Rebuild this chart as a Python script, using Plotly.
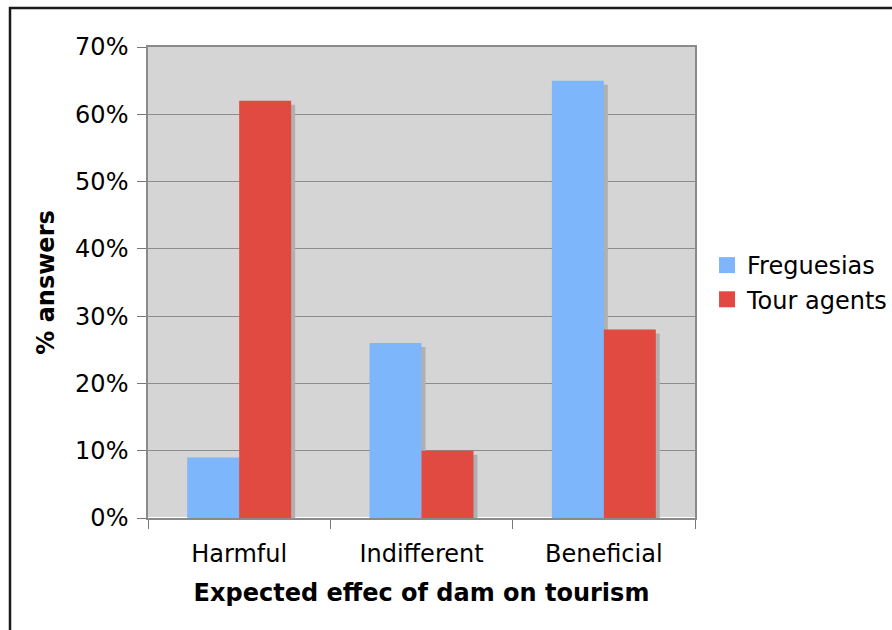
import plotly.graph_objects as go

categories = ["Harmful", "Indifferent", "Beneficial"]
freguesias = [9, 26, 65]
tour_agents = [62, 10, 28]
y_ticks = [0, 10, 20, 30, 40, 50, 60, 70]
y_tick_labels = [f"{v}%" for v in y_ticks]

BLUE = "#7db6fb"
RED = "#e04a41"
SHADOW = "#b0b0b0"
FONT = "DejaVu Sans"

# plot area geometry (pixels)
W, H = 892, 630
L, R, T, B = 148, 197, 47, 112
pw, ph = W - L - R, H - T - B
ymax = 70
shift_px = 4
dx = shift_px * 3 / pw
dy = shift_px * ymax / ph

fig = go.Figure()

# shadows on primary axes (shifted ranges)
for name, vals in [("Freguesias", freguesias), ("Tour agents", tour_agents)]:
    fig.add_trace(go.Bar(x=categories, y=vals, name=name, marker_color=SHADOW,
                         marker_line_width=0, showlegend=False, hoverinfo="skip",
                         xaxis="x", yaxis="y", offsetgroup=name))

# real bars on overlay axes
fig.add_trace(go.Bar(x=categories, y=freguesias, name="Freguesias", marker_color=BLUE,
                     marker_line_width=0, xaxis="x2", yaxis="y2", offsetgroup="F",
                     showlegend=False, legendgroup="F"))
fig.add_trace(go.Bar(x=categories, y=tour_agents, name="Tour agents", marker_color=RED,
                     marker_line_width=0, xaxis="x2", yaxis="y2", offsetgroup="T",
                     showlegend=False, legendgroup="T"))

# legend entries with larger square swatches
for name, col, grp in [("Freguesias", BLUE, "F"), ("Tour agents", RED, "T")]:
    fig.add_trace(go.Scatter(x=[None], y=[None], mode="markers", name=name,
                             legendgroup=grp, xaxis="x2", yaxis="y2",
                             marker=dict(symbol="square", size=16, color=col,
                                         line=dict(width=0))))

fig.update_layout(
    width=W, height=H,
    margin=dict(l=L, r=R, t=T, b=B, autoexpand=False),
    paper_bgcolor="white",
    plot_bgcolor="#d5d5d5",
    barmode="group",
    bargap=0.43,
    bargroupgap=0,
    font=dict(family=FONT, size=24, color="black"),
    xaxis=dict(range=[-0.5 - dx, 2.5 - dx], visible=False, fixedrange=True),
    yaxis=dict(range=[dy, ymax + dy], visible=False, fixedrange=True),
    xaxis2=dict(overlaying="x", range=[-0.5, 2.5], type="category",
                categoryorder="array", categoryarray=categories,
                showline=True, mirror=True, linecolor="#8a8a8a", linewidth=1.5,
                ticks="outside", tickson="boundaries", ticklen=9, tickcolor="#777",
                showgrid=False, ticklabelstandoff=13,
                title=dict(text="<b>Expected effec of dam on tourism</b>", standoff=18,
                           font=dict(size=24))),
    yaxis2=dict(overlaying="y", range=[0, ymax], tickvals=y_ticks, ticktext=y_tick_labels,
                showline=True, mirror=True, linecolor="#8a8a8a", linewidth=1.5,
                ticks="outside", ticklen=9, tickcolor="#777",
                showgrid=True, gridcolor="#8c8c8c", gridwidth=1,
                ticklabelstandoff=4,
                title=dict(text="<b>% answers</b>", standoff=14, font=dict(size=24))),
    legend=dict(x=1.022, xanchor="left", y=0.5, yanchor="middle",
                font=dict(size=24), tracegroupgap=0, itemwidth=30),
    shapes=[dict(type="rect", xref="paper", yref="paper",
                 x0=(10 - L) / pw, x1=(W + 20 - L) / pw,
                 y0=-(B + 20) / ph, y1=(H - B - 8) / ph,
                 line=dict(color="#1a1a1a", width=2.5), fillcolor="rgba(0,0,0,0)",
                 layer="below")],
)

fig.write_html("out.html")
